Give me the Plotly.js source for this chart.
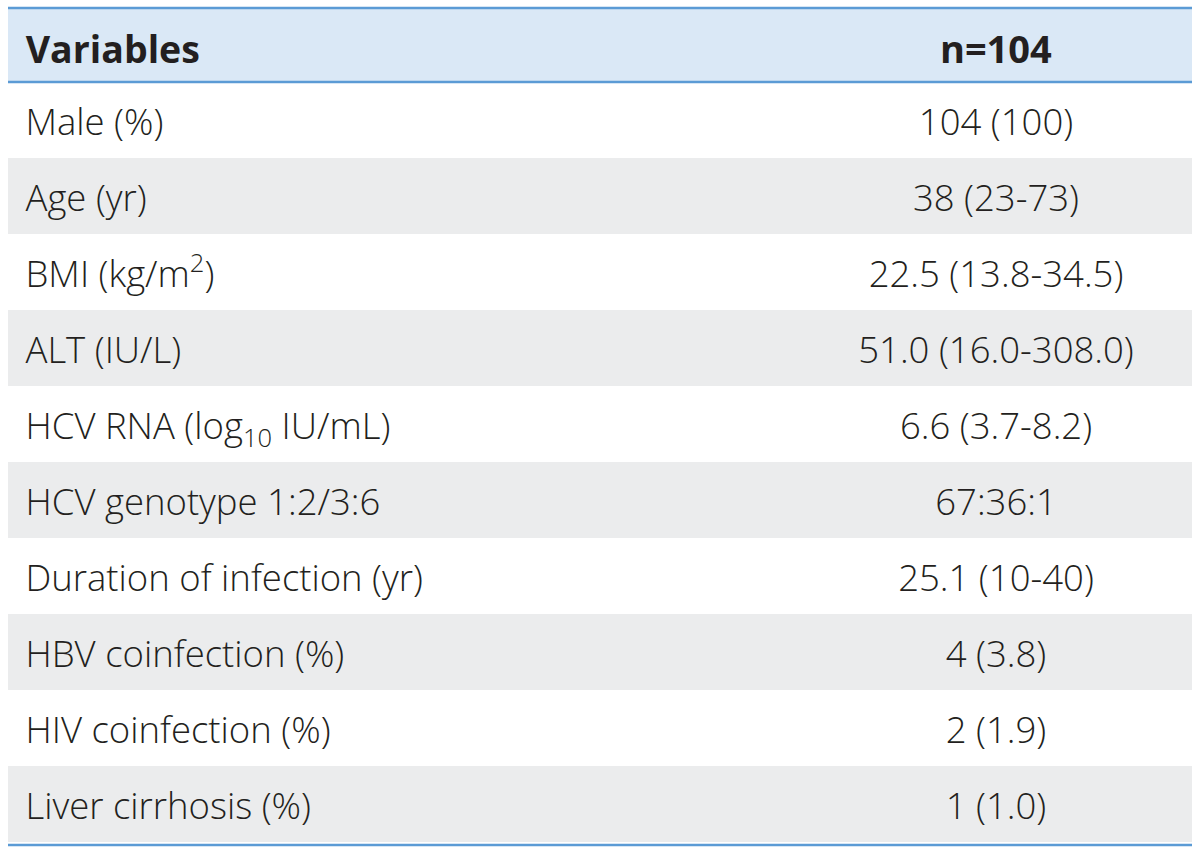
<!DOCTYPE html>
<html>
<head>
<meta charset="utf-8">
<script src="https://cdn.plot.ly/plotly-3.0.1.min.js"></script>
<style>html,body{margin:0;padding:0;background:#fff;}#chart{width:1200px;height:854px;}</style>
</head>
<body>
<div id="chart"></div>
<script>
const headerLabels = ["Variables", "n=104"];
const variables = [
  "Male (%)",
  "Age (yr)",
  "BMI (kg/m<sup>2</sup>)",
  "ALT (IU/L)",
  "HCV RNA (log<sub>10</sub> IU/mL)",
  "HCV genotype 1:2/3:6",
  "Duration of infection (yr)",
  "HBV coinfection (%)",
  "HIV coinfection (%)",
  "Liver cirrhosis (%)"
];
const values = [
  "104 (100)",
  "38 (23-73)",
  "22.5 (13.8-34.5)",
  "51.0 (16.0-308.0)",
  "6.6 (3.7-8.2)",
  "67:36:1",
  "25.1 (10-40)",
  "4 (3.8)",
  "2 (1.9)",
  "1 (1.0)"
];

const W = 1200, H = 854;
const tLeft = 8, tRight = 1192, tTop = 8, tBottom = 845;
const headerH = 74, rowH = 76;
const white = "#ffffff", gray = "#ebeced", headBlue = "#dae8f6", lineBlue = "#5b9bd5";
const ink = "#231f20";
const rowFill = variables.map((_, i) => i % 2 === 0 ? white : gray);

// a tiny invisible first line pushes the visible text down inside each cell
const lead = '<span style="font-size:1px">\u00a0</span><br>';
const fmt = (s, px, indent) => lead + '<span style="font-size:' + px + 'px">' + (indent ? "\u00a0" : "") + s + '</span>';

const trace = {
  type: "table",
  domain: {x: [tLeft / W, tRight / W], y: [1 - tBottom / H, 1 - tTop / H]},
  columnwidth: [792, 392],
  header: {
    values: [fmt("<b>" + headerLabels[0] + "</b>", 37.5, true), fmt("<b>" + headerLabels[1] + "</b>", 38, false)],
    align: ["left", "center"],
    height: headerH,
    fill: {color: headBlue},
    line: {width: 0, color: headBlue},
    font: {family: "Open Sans, Noto Sans, sans-serif", size: 35, color: ink}
  },
  cells: {
    values: [variables.map(s => fmt(s, 36.5, true)), values.map(s => fmt(s, 36.5, false))],
    align: ["left", "center"],
    height: rowH,
    fill: {color: [rowFill, rowFill]},
    line: {width: 0, color: white},
    font: {family: "Open Sans, Noto Sans, sans-serif", size: 34, color: ink, weight: 300}
  }
};

const shapes = [tTop, tTop + headerH, tBottom].map(yy => ({
  type: "line", xref: "paper", yref: "paper",
  x0: tLeft / W, x1: tRight / W, y0: 1 - yy / H, y1: 1 - yy / H,
  line: {color: lineBlue, width: 2.5}
}));

Plotly.newPlot("chart", [trace], {
  width: W, height: H,
  margin: {l: 0, r: 0, t: 0, b: 0},
  paper_bgcolor: "#ffffff",
  shapes: shapes
}, {displayModeBar: false, staticPlot: true});
</script>
</body>
</html>
